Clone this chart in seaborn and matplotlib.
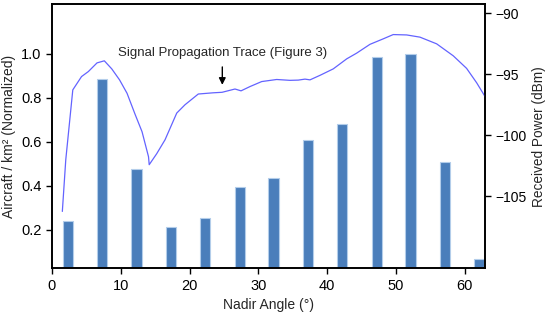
"""
Aircraft density per nadir angle with received power trace overlay
"""

import numpy as np
import pandas as pd
import seaborn as sns
import matplotlib.pyplot as plt

# bar data: aircraft / km^2 (normalized) per nadir angle bin
bin_angle = [2.3, 7.3, 12.3, 17.3, 22.3, 27.3, 32.2, 37.2, 42.2, 47.2, 52.1, 57.1, 62.0]
aircraft_norm = [0.242, 0.886, 0.476, 0.212, 0.253, 0.392, 0.435, 0.608, 0.679, 0.986, 1.0, 0.509, 0.068]

# signal propagation trace: received power (dBm) vs nadir angle
trace_angle = [1.52, 2.02, 3.04, 4.31, 5.30, 6.56, 7.62, 8.70, 9.83, 10.92, 12.08, 13.10,
               14.04, 14.14, 15.23, 16.44, 18.14, 19.34, 21.27, 23.45, 24.72, 26.60, 27.48,
               28.78, 30.48, 32.66, 34.59, 35.80, 36.77, 37.50, 38.95, 40.88, 42.83, 44.28,
               46.21, 48.14, 49.59, 51.54, 53.47, 55.90, 58.31, 60.25, 61.71, 62.9]
trace_power = [-106.24, -102.0, -96.28, -95.19, -94.78, -94.07, -93.90, -94.56, -95.46, -96.56,
               -98.27, -99.71, -101.76, -102.41, -101.51, -100.37, -98.18, -97.50, -96.62, -96.52,
               -96.48, -96.21, -96.36, -96.01, -95.60, -95.43, -95.50, -95.48, -95.40, -95.46,
               -95.09, -94.56, -93.74, -93.27, -92.55, -92.10, -91.75, -91.78, -91.96, -92.51,
               -93.49, -94.52, -95.70, -96.80]

bars = pd.DataFrame({'angle': bin_angle, 'density': aircraft_norm})
trace = pd.DataFrame({'angle': trace_angle, 'power': trace_power})

sns.set_style('ticks')
plt.rcParams['font.family'] = ['Liberation Sans', 'DejaVu Sans']

fig = plt.figure(figsize=(5.46, 3.12), dpi=100)
ax = fig.add_axes([0.095, 0.140, 0.793, 0.847])

sns.barplot(data=bars, x='angle', y='density', native_scale=True, width=0.3,
            color='#4a7ebb', saturation=1, edgecolor='#b3cdea', linewidth=0.8, ax=ax)
ax.set_xlim(0, 62.9)
ax.set_ylim(0.025, 1.225)
ax.set_xticks([0, 10, 20, 30, 40, 50, 60])
ax.set_yticks([0.2, 0.4, 0.6, 0.8, 1.0])
ax.set_xlabel('Nadir Angle (°)', fontsize=10)
ax.set_ylabel('Aircraft / km² (Normalized)', fontsize=10, labelpad=4)
ax.tick_params(labelsize=10.5, length=4, width=1, colors='black')

ax2 = ax.twinx()
sns.lineplot(data=trace, x='angle', y='power', color='#6363ff', linewidth=0.9, ax=ax2)
ax2.set_ylim(-110.9, -89.25)
ax2.set_yticks([-90, -95, -100, -105])
ax2.set_ylabel('Received Power (dBm)', fontsize=9.8, labelpad=4)
ax2.tick_params(labelsize=10, length=4, width=1, colors='black')

ax2.annotate('Signal Propagation Trace (Figure 3)', xy=(24.76, -95.87), xytext=(24.76, -93.3),
             ha='center', va='center', fontsize=9.5,
             arrowprops=dict(arrowstyle='-|>', color='black', lw=1, mutation_scale=10,
                             shrinkA=3, shrinkB=0))

for a in (ax, ax2):
    for s in a.spines.values():
        s.set_linewidth(1.2)
        s.set_color('black')

plt.savefig('out.png', dpi=100)
